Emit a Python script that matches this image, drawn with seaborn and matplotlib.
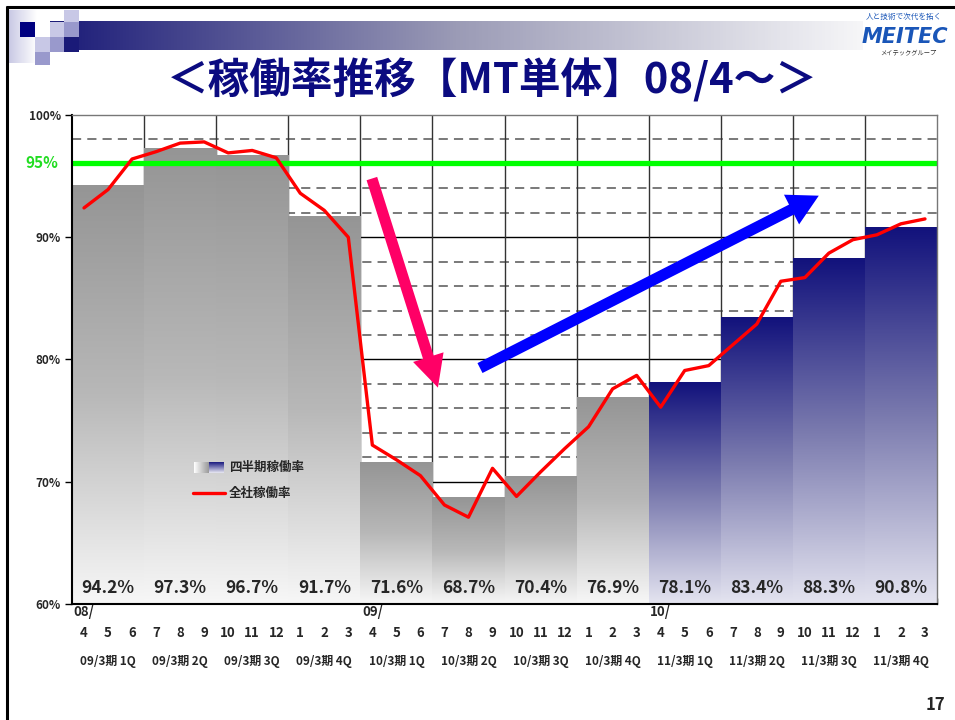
import numpy as np
import pandas as pd
import matplotlib
matplotlib.use('Agg')
import matplotlib.pyplot as plt
import matplotlib.transforms as mtransforms
from matplotlib.colors import LinearSegmentedColormap
from matplotlib.patches import Rectangle
import seaborn as sns

sns.set_style('white')
plt.rcParams['font.family'] = ['Noto Sans CJK JP', 'DejaVu Sans']
plt.rcParams['axes.unicode_minus'] = False

# --- data ---
month_labels = ['08/\n4', '\n5', '\n6', '\n7', '\n8', '\n9', '\n10', '\n11', '\n12', '\n1', '\n2', '\n3',
                '09/\n4', '\n5', '\n6', '\n7', '\n8', '\n9', '\n10', '\n11', '\n12', '\n1', '\n2', '\n3',
                '10/\n4', '\n5', '\n6', '\n7', '\n8', '\n9', '\n10', '\n11', '\n12', '\n1', '\n2', '\n3']
company_rate = [92.4, 93.9, 96.4, 97.0, 97.7, 97.8, 96.9, 97.1, 96.5, 93.6, 92.2, 90.0,
                73.0, 71.8, 70.5, 68.1, 67.1, 71.1, 68.8, 70.8, 72.7, 74.5, 77.6, 78.7,
                76.1, 79.1, 79.5, 81.2, 82.9, 86.4, 86.7, 88.7, 89.8, 90.2, 91.1, 91.5]
quarter_labels = ['09/3期 1Q', '09/3期 2Q', '09/3期 3Q', '09/3期 4Q',
                  '10/3期 1Q', '10/3期 2Q', '10/3期 3Q', '10/3期 4Q',
                  '11/3期 1Q', '11/3期 2Q', '11/3期 3Q', '11/3期 4Q']
quarter_rate = [94.2, 97.3, 96.7, 91.7, 71.6, 68.7, 70.4, 76.9, 78.1, 83.4, 88.3, 90.8]
target_label = '95%'
target_line = 96.1   # where the green target line sits in the picture

month_idx = np.arange(len(company_rate))
df_m = pd.DataFrame({'m': month_idx, 'rate': company_rate})
df_q = pd.DataFrame({'q': month_idx[1::3], 'rate': quarter_rate, 'label': quarter_labels})

gray_cmap = LinearSegmentedColormap.from_list('g', ['#f7f7f7', '#b8b8b8', '#959595'])
navy_cmap = LinearSegmentedColormap.from_list('n', ['#e4e4f0', '#7a7aae', '#12127c'])

fig = plt.figure(figsize=(9.55, 7.2), dpi=100)
fig.set_facecolor('white')

# page decorations (pixel coords)
deco = fig.add_axes([0, 0, 1, 1], zorder=0)
deco.axis('off')
deco.plot([6, 955], [7, 7], color='black', lw=2.2, solid_capstyle='butt')
deco.plot([7, 7], [6, 720], color='black', lw=2.2, solid_capstyle='butt')
deco.imshow(np.linspace(0, 1, 256)[None, :], extent=[9, 36, 63, 10], aspect='auto',
            cmap=LinearSegmentedColormap.from_list('l', ['#c9c9e4', '#ffffff']))
hdr = LinearSegmentedColormap.from_list('h', ['#1a1a78', '#9b9bb6', '#f6f6f8'])
deco.imshow(np.linspace(0, 1, 256)[None, :], extent=[50, 862, 50, 21], aspect='auto', cmap=hdr)
for (x, y, w, h, c) in [(20, 22, 15, 15, '#000080'), (35, 37, 15, 15, '#c8c8e6'),
                        (35, 52, 15, 13, '#9999cc'), (50, 22, 14, 15, '#c8c8e6'),
                        (50, 37, 14, 15, '#9999cc'), (64, 10, 15, 12, '#c8c8e6'),
                        (64, 22, 15, 15, '#9999cc'), (64, 37, 15, 15, '#1a1a78')]:
    deco.add_patch(Rectangle((x, y), w, h, facecolor=c, edgecolor='none'))
deco.text(492, 80, '＜稼働率推移【MT単体】08/4～＞', ha='center', va='center',
          fontsize=30, fontweight='bold', color='#0b0b80')
deco.text(866, 17, '人と技術で次代を拓く', ha='left', va='center', fontsize=5.5,
          color='#1a56b8', style='italic')
deco.text(948, 37, 'MEITEC', ha='right', va='center', fontsize=15, fontweight='bold',
          color='#1a56b8', style='italic', family=['DejaVu Sans'])
deco.text(880, 52, 'メイテックグループ', ha='left', va='center', fontsize=4.5, color='#333333')
deco.text(935, 705, '17', ha='center', va='center', fontsize=12, fontweight='bold')
deco.set_xlim(0, 955)
deco.set_ylim(720, 0)

# --- chart ---
ax = fig.add_axes([72/955, 1 - 604/720, 865/955, 489/720], zorder=1)

sns.barplot(data=df_q, x='q', y='rate', native_scale=True, width=1.0, color='#999999',
            ax=ax, zorder=1)
for i, p in enumerate(ax.patches):
    x0, w, h = p.get_x(), p.get_width(), p.get_height()
    cm = navy_cmap if quarter_labels[i].startswith('11/') else gray_cmap
    ax.imshow(np.linspace(0, 1, 256)[:, None], extent=[x0, x0 + w, 60, h], origin='lower',
              aspect='auto', cmap=cm, zorder=1)
    p.set_visible(False)
    ax.text(x0 + w / 2, 61.3, f'{quarter_rate[i]:.1f}%', ha='center', va='center',
            fontsize=12.5, fontweight='bold', zorder=5)

# grid behind bars
minor_y = [v for v in range(62, 100, 2) if v % 10 != 0]
ax.hlines(minor_y, -0.5, 35.5, colors='#555555', linestyles=(0, (6, 4)), lw=1.1, zorder=0.5)
ax.hlines([70, 80, 90], -0.5, 35.5, colors='black', lw=1, zorder=0.6)
ax.vlines(np.arange(2.5, 35, 3), 60, 100, colors='#333333', lw=1, zorder=0.6)

ax.axhline(target_line, color='#00ff00', lw=3.8, zorder=2)
sns.lineplot(data=df_m, x='m', y='rate', color='#ff0000', lw=2.4, ax=ax, zorder=3)

# arrows
ax.annotate('', xy=(14.73, 77.7), xytext=(11.98, 94.8),
            arrowprops=dict(arrowstyle='simple,head_length=2.3,head_width=2.3,tail_width=0.8',
                            mutation_scale=10, fc='#ff0066', ec='none', shrinkA=0, shrinkB=0),
            zorder=4)
ax.annotate('', xy=(30.58, 93.4), xytext=(16.48, 79.3),
            arrowprops=dict(arrowstyle='simple,head_length=2.2,head_width=2.4,tail_width=0.8',
                            mutation_scale=10, fc='#0000ff', ec='none', shrinkA=0, shrinkB=0),
            zorder=4)

ax.set_xlim(-0.5, 35.5)
ax.set_ylim(60, 100)
ax.set_xlabel('')
ax.set_ylabel('')

ax.set_xticks(month_idx)
ax.set_xticklabels(month_labels, fontsize=9.5, fontweight='bold', linespacing=1.6)
ax.set_xticks(np.arange(-0.5, 36, 3), minor=True)
ax.tick_params(axis='x', which='major', length=0, pad=1)
ax.tick_params(axis='x', which='minor', direction='in', length=4, width=1, color='black',
               bottom=True)
ax.set_yticks([60, 70, 80, 90, 100])
ax.set_yticklabels(['60%', '70%', '80%', '90%', '100%'], fontsize=8.5, fontweight='bold')
ax.tick_params(axis='y', direction='out', length=5, width=1, color='black', left=True, pad=3)
ax.text(-0.016, target_line, target_label, transform=mtransforms.blended_transform_factory(
    ax.transAxes, ax.transData), ha='right', va='center', fontsize=11, fontweight='bold',
    color='#22dd22')

trans = mtransforms.blended_transform_factory(ax.transData, ax.transAxes)
for qx, lab in zip(df_q['q'], quarter_labels):
    ax.text(qx, -0.117, lab, transform=trans, ha='center', va='center', fontsize=8.5,
            fontweight='bold')

for s in ['left', 'bottom']:
    ax.spines[s].set_color('black')
    ax.spines[s].set_linewidth(1.5)
for s in ['top', 'right']:
    ax.spines[s].set_color('#777777')
    ax.spines[s].set_linewidth(1)

# legend (pixel coords, on top)
top = fig.add_axes([0, 0, 1, 1], zorder=3)
top.axis('off')
top.imshow(np.linspace(0, 1, 64)[None, :], extent=[194, 209, 473, 462], aspect='auto',
           cmap=LinearSegmentedColormap.from_list('lg', ['#ffffff', '#9a9a9a']))
top.imshow(np.linspace(0, 1, 64)[:, None], extent=[209, 224, 473, 462], aspect='auto',
           cmap=LinearSegmentedColormap.from_list('ln', ['#1a1a80', '#e8e8f2']))
top.plot([193, 225], [493, 493], color='#ff0000', lw=2.4)
top.text(229, 467, '四半期稼働率', ha='left', va='center', fontsize=9, fontweight='bold')
top.text(229, 493, '全社稼働率', ha='left', va='center', fontsize=9, fontweight='bold')
top.set_xlim(0, 955)
top.set_ylim(720, 0)

fig.savefig('out.png', dpi=100)
